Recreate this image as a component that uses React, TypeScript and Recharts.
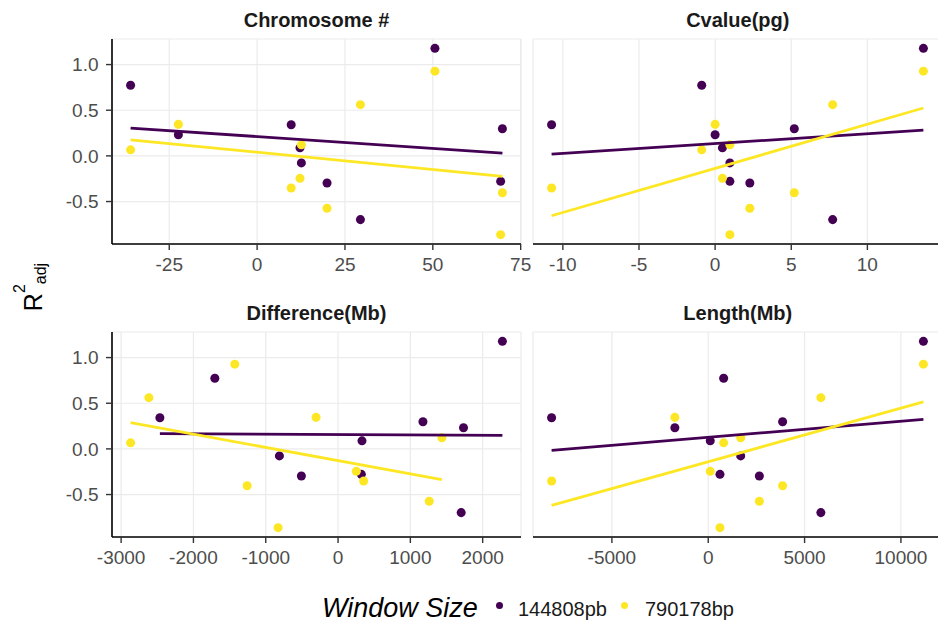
import { CartesianGrid, Scatter, ScatterChart, XAxis, YAxis, ZAxis } from "recharts";

const PURPLE = "#440154";
const YELLOW = "#FDE725";
const FONT = '"Liberation Sans", Arial, Helvetica, sans-serif';

// R2 adj per chromosome (same order in every x array below)
const Y_144808 = [0.774, 0.231, 0.341, 0.088, -0.077, -0.297, -0.698, 1.178, 0.297, -0.279];
const Y_790178 = [0.066, 0.345, -0.352, -0.246, 0.121, -0.573, 0.561, 0.928, -0.404, -0.863];

// predictors
const X_CHROM = [-36, -22.4, 9.7, 12.2, 12.6, 19.9, 29.4, 50.6, 69.8, 69.3];
const X_CVALUE = [-0.88, 0, -10.74, 0.48, 0.97, 2.28, 7.72, 13.68, 5.2, 0.97];
const X_DIFF_144808 = [-1704, 1735, -2464, 331, -811, -507, 1703, 2273, 1174, 322];
const X_DIFF_790178 = [-2869, -304, 354, 253, 1436, 1261, -2616, -1428, -1257, -829];
const X_LENGTH = [800, -1732, -8129, 105, 1685, 2653, 5845, 11167, 3860, 609];

const TICKS_CHROM = [-25, 0, 25, 50, 75];
const TICKS_CVALUE = [-10, -5, 0, 5, 10];
const TICKS_DIFF = [-3000, -2000, -1000, 0, 1000, 2000];
const TICKS_LENGTH = [-5000, 0, 5000, 10000];
const Y_TICKS = [-0.5, 0, 0.5, 1];

const SERIES = ["144808pb", "790178bp"];

const COL_X = [112, 533.3];
const ROW_Y = [38.5, 331.5];
const PANEL_W = 409;
const PANEL_H = 205;

type Pt = { x: number; y: number };
const pts = (xs: number[], ys: number[]): Pt[] => xs.map((x, i) => ({ x, y: ys[i] }));

// ggplot default 5% expansion
function expand(v: number[]): [number, number] {
  const lo = Math.min(...v);
  const hi = Math.max(...v);
  const pad = (hi - lo) * 0.05;
  return [lo - pad, hi + pad];
}

const Y_DOMAIN = expand([...Y_144808, ...Y_790178]);

const PANELS = [
  { title: "Chromosome #", a: X_CHROM, b: X_CHROM, ticks: TICKS_CHROM },
  { title: "Cvalue(pg)", a: X_CVALUE, b: X_CVALUE, ticks: TICKS_CVALUE },
  { title: "Difference(Mb)", a: X_DIFF_144808, b: X_DIFF_790178, ticks: TICKS_DIFF },
  { title: "Length(Mb)", a: X_LENGTH, b: X_LENGTH, ticks: TICKS_LENGTH },
];

const noDot = () => <g />;

function Panel({ i }: { i: number }) {
  const p = PANELS[i];
  const col = i % 2;
  const row = Math.floor(i / 2);
  const yw = col === 0 ? 112 : 10;
  const s1 = pts(p.a, Y_144808);
  const s2 = pts(p.b, Y_790178);
  return (
    <>
      <div
        style={{
          position: "absolute",
          left: COL_X[col],
          top: ROW_Y[row] - 31,
          width: PANEL_W,
          textAlign: "center",
          fontWeight: 700,
          fontSize: 20,
          lineHeight: "24px",
          color: "#1a1a1a",
        }}
      >
        {p.title}
      </div>
      <div style={{ position: "absolute", left: COL_X[col] - yw, top: ROW_Y[row] - 10 }}>
        <ScatterChart
          width={yw + PANEL_W + 10}
          height={PANEL_H + 50}
          margin={{ top: 10, right: 10, bottom: 0, left: 0 }}
          style={{ fontFamily: FONT }}
        >
          <CartesianGrid stroke="#ebebeb" strokeWidth={1.2} />
          <XAxis
            type="number"
            dataKey="x"
            domain={expand([...p.a, ...p.b])}
            allowDataOverflow
            ticks={p.ticks}
            interval={0}
            height={40}
            tickSize={6}
            tickMargin={8}
            axisLine={{ stroke: "#000", strokeWidth: 1.6 }}
            tickLine={{ stroke: "#333", strokeWidth: 1.4 }}
            tick={{ fill: "#4d4d4d", fontSize: 19 }}
          />
          {col === 0 ? (
            <YAxis
              type="number"
              dataKey="y"
              domain={Y_DOMAIN}
              allowDataOverflow
              ticks={Y_TICKS}
              interval={0}
              width={yw}
              tickSize={6}
              tickMargin={7.5}
              tickFormatter={(v: number) => v.toFixed(1)}
              axisLine={{ stroke: "#000", strokeWidth: 1.6 }}
              tickLine={{ stroke: "#333", strokeWidth: 1.4 }}
              tick={{ fill: "#4d4d4d", fontSize: 19 }}
            />
          ) : (
            <YAxis
              type="number"
              dataKey="y"
              domain={Y_DOMAIN}
              allowDataOverflow
              ticks={Y_TICKS}
              interval={0}
              width={yw}
              tick={false}
              tickLine={false}
              axisLine={false}
            />
          )}
          <ZAxis range={[72, 72]} />
          <Scatter name={SERIES[0]} data={s1} fill={PURPLE} isAnimationActive={false} />
          <Scatter name={SERIES[1]} data={s2} fill={YELLOW} isAnimationActive={false} />
          <Scatter
            data={s1}
            line={{ stroke: PURPLE, strokeWidth: 2.8 }}
            lineType="fitting"
            shape={noDot}
            isAnimationActive={false}
          />
          <Scatter
            data={s2}
            line={{ stroke: YELLOW, strokeWidth: 2.8 }}
            lineType="fitting"
            shape={noDot}
            isAnimationActive={false}
          />
        </ScatterChart>
      </div>
    </>
  );
}

export default function App() {
  return (
    <div
      style={{
        position: "fixed",
        left: 0,
        top: 0,
        width: 938,
        height: 622,
        overflow: "hidden",
        background: "#fff",
        fontFamily: FONT,
      }}
    >
      {PANELS.map((_, i) => (
        <Panel key={i} i={i} />
      ))}

      <svg style={{ position: "absolute", left: 0, top: 0 }} width={70} height={622}>
        <text
          x={41.5}
          y={287}
          transform="rotate(-90 41.5 287)"
          textAnchor="middle"
          fill="#000"
          fontFamily={FONT}
        >
          <tspan fontSize={25}>R</tspan>
          <tspan fontSize={16} dy={-17}>2</tspan>
          <tspan fontSize={16} dy={21}>adj</tspan>
        </text>
      </svg>

      <div
        style={{
          position: "absolute",
          left: 322,
          top: 593,
          fontSize: 27,
          lineHeight: "30px",
          fontStyle: "italic",
          color: "#000",
          whiteSpace: "nowrap",
        }}
      >
        Window Size
      </div>
      {[PURPLE, YELLOW].map((c, k) => (
        <div key={c}>
          <div
            style={{
              position: "absolute",
              left: [495.8, 620.5][k],
              top: 601.5,
              width: 7,
              height: 7,
              borderRadius: "50%",
              background: c,
            }}
          />
          <div
            style={{
              position: "absolute",
              left: [518, 645][k],
              top: 597,
              fontSize: 20,
              lineHeight: "24px",
              color: "#1a1a1a",
              whiteSpace: "nowrap",
            }}
          >
            {SERIES[k]}
          </div>
        </div>
      ))}
    </div>
  );
}
